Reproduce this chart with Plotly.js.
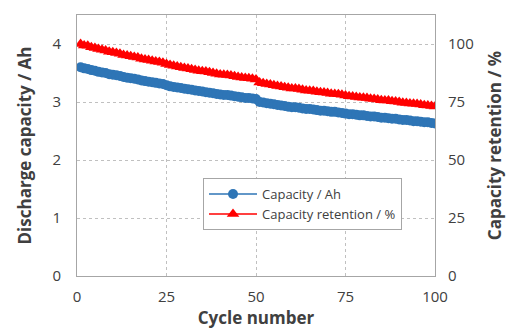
<!DOCTYPE html>
<html>
<head>
<meta charset="utf-8">
<script src="https://cdn.plot.ly/plotly-3.0.1.min.js"></script>
<style>html,body{margin:0;padding:0;background:#fff;}#chart{width:507px;height:332px;}</style>
</head>
<body>
<div id="chart"></div>
<script>
const cycles = [1,2,3,4,5,6,7,8,9,10,11,12,13,14,15,16,17,18,19,20,21,22,23,24,25,26,27,28,29,30,31,32,33,34,35,36,37,38,39,40,41,42,43,44,45,46,47,48,49,50,51,52,53,54,55,56,57,58,59,60,61,62,63,64,65,66,67,68,69,70,71,72,73,74,75,76,77,78,79,80,81,82,83,84,85,86,87,88,89,90,91,92,93,94,95,96,97,98,99,100];
const capacityAh = [3.60,3.58,3.57,3.55,3.54,3.52,3.51,3.50,3.48,3.47,
3.46,3.45,3.43,3.42,3.41,3.40,3.39,3.37,3.36,3.35,
3.34,3.33,3.32,3.31,3.29,3.27,3.26,3.25,3.24,3.23,
3.22,3.21,3.20,3.19,3.18,3.17,3.16,3.15,3.14,3.13,
3.12,3.12,3.11,3.10,3.09,3.08,3.07,3.07,3.06,3.05,
3.00,2.99,2.98,2.97,2.96,2.95,2.94,2.93,2.92,2.91,
2.91,2.90,2.89,2.88,2.88,2.87,2.86,2.85,2.85,2.84,
2.83,2.83,2.82,2.81,2.80,2.79,2.79,2.78,2.77,2.77,
2.76,2.75,2.75,2.74,2.73,2.73,2.72,2.71,2.71,2.70,
2.69,2.69,2.68,2.67,2.67,2.66,2.65,2.65,2.64,2.63];
const retentionPct = [100.0,99.4,99.2,98.6,98.3,97.8,97.5,97.2,96.7,96.4,
96.1,95.8,95.3,95.0,94.7,94.4,94.2,93.6,93.3,93.1,
92.8,92.5,92.2,91.9,91.4,90.9,90.6,90.3,90.0,89.7,
89.4,89.1,88.8,88.5,88.3,88.1,87.8,87.5,87.2,86.9,
86.7,86.6,86.4,86.1,85.8,85.6,85.3,85.2,85.0,84.7,
83.4,83.1,82.8,82.5,82.2,81.9,81.7,81.4,81.1,80.8,
80.8,80.6,80.3,80.0,79.9,79.7,79.4,79.2,79.1,78.9,
78.6,78.5,78.3,78.1,77.8,77.5,77.4,77.2,76.9,76.8,
76.7,76.4,76.3,76.1,75.8,75.7,75.6,75.3,75.2,75.0,
74.7,74.6,74.4,74.2,74.1,73.9,73.6,73.5,73.3,73.1];
const xTicks = [0,25,50,75,100];
const yTicks = [0,1,2,3,4];
const y2Ticks = [0,25,50,75,100];
const seriesNames = ['Capacity / Ah','Capacity retention / %'];

const fontFam = 'Open Sans, Liberation Sans, sans-serif';
const traces = [
  {x: cycles, y: capacityAh, name: seriesNames[0], type: 'scatter', mode: 'lines+markers',
   line: {color: '#2e75b6', width: 1.5}, marker: {symbol: 'circle', size: 10, color: '#2e75b6'}, yaxis: 'y'},
  {x: cycles, y: retentionPct, name: seriesNames[1], type: 'scatter', mode: 'lines+markers',
   line: {color: '#ff0000', width: 1.5}, marker: {symbol: 'triangle-up', size: 11, color: '#ff0000'}, yaxis: 'y2'}
];
const gridCol = '#c0c0c0';
const layout = {
  width: 507, height: 332,
  margin: {l: 77, r: 72, t: 15, b: 56},
  paper_bgcolor: '#fff', plot_bgcolor: '#fff',
  font: {family: fontFam, size: 15, color: '#404040'},
  showlegend: true,
  legend: {x: 0.352, y: 0.375, xanchor: 'left', yanchor: 'top', bgcolor: '#fff',
    bordercolor: '#a6a6a6', borderwidth: 1, font: {size: 13, color: '#404040'},
    tracegroupgap: 6, itemwidth: 48},
  xaxis: {range: [0, 100], tickvals: xTicks, ticktext: xTicks.map(String), ticks: '',
    showgrid: true, gridcolor: gridCol, griddash: 'dot', gridwidth: 1, zeroline: false,
    showline: true, linecolor: '#a6a6a6', mirror: true, ticklabelstandoff: 7,
    title: {text: '<b>Cycle number</b>', font: {size: 17, color: '#404040'}, standoff: 6}},
  yaxis: {range: [0, 4.5], tickvals: yTicks, ticktext: yTicks.map(String), ticks: '',
    showgrid: true, gridcolor: gridCol, griddash: 'dot', gridwidth: 1, zeroline: false,
    showline: true, linecolor: '#a6a6a6', mirror: true, ticklabelstandoff: 12,
    title: {text: '<b>Discharge capacity / Ah</b>', font: {size: 17, color: '#404040'}, standoff: 16}},
  yaxis2: {range: [0, 112.5], tickvals: y2Ticks, ticktext: y2Ticks.map(String), ticks: '',
    overlaying: 'y', side: 'right', showgrid: false, zeroline: false, ticklabelstandoff: 12,
    title: {text: '<b>Capacity retention / %</b>', font: {size: 17, color: '#404040'}, standoff: 16}}
};
Plotly.newPlot('chart', traces, layout, {displayModeBar: false, staticPlot: true});
</script>
</body>
</html>
